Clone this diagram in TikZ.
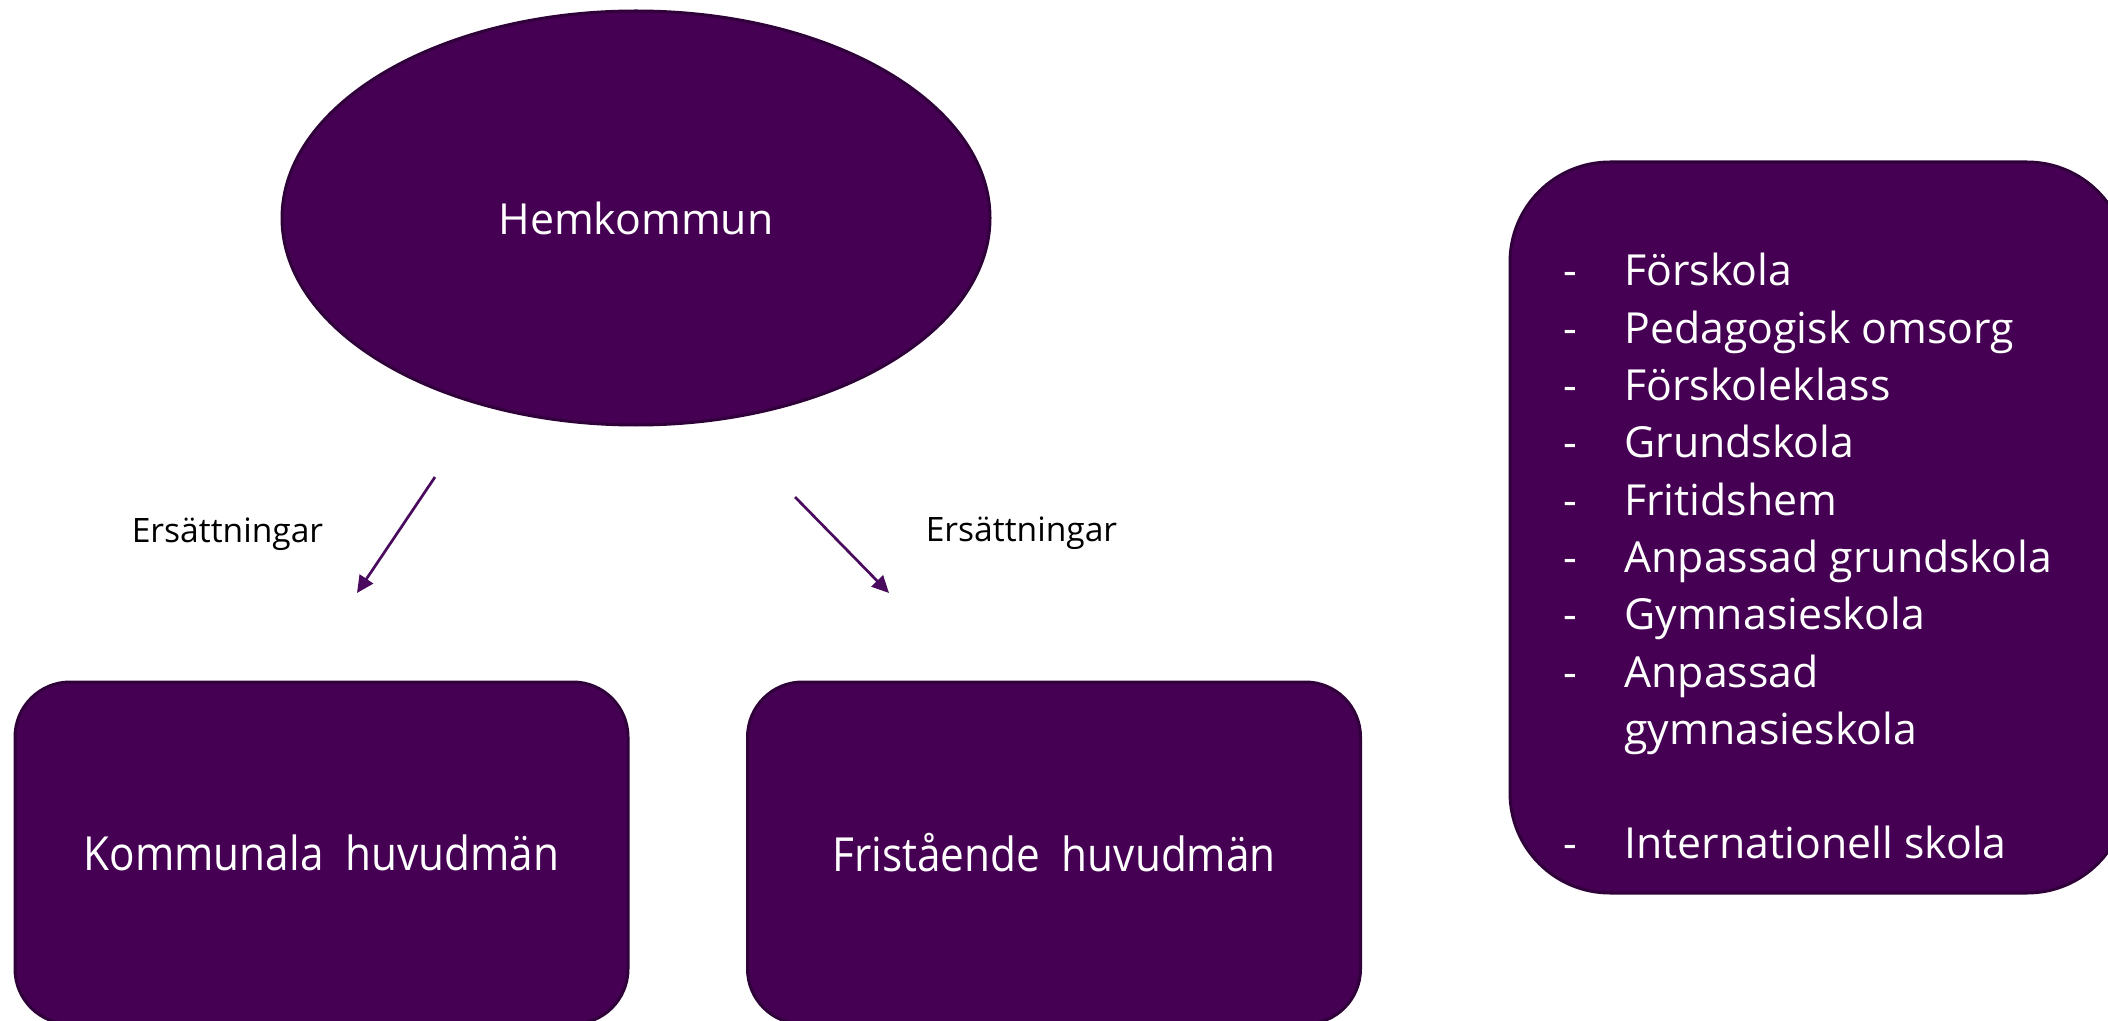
\documentclass[tikz,border=0pt]{standalone}
\usepackage{fontspec}
\setmainfont{Open Sans}
\newfontfamily\condfont[FakeStretch=0.9]{Open Sans}
\usetikzlibrary{shapes.geometric,arrows.meta}
\definecolor{purplefill}{HTML}{450053}
\definecolor{purpleline}{HTML}{2F003A}
\definecolor{arrowcol}{HTML}{4A0A5E}
\begin{document}
\begin{tikzpicture}[x=0.5pt,y=-0.5pt,
  shapebox/.style={draw=purpleline,line width=1.5pt,fill=purplefill,inner sep=0pt,text=white},
  bottombox/.style={shapebox,rectangle,rounded corners=27.5pt,minimum width=306.5pt,minimum height=171pt,
     font=\condfont\fontsize{23.5pt}{28pt}\selectfont},
  labeltext/.style={inner sep=0pt,anchor=base,text=black,font=\fontsize{16.8pt}{20pt}\selectfont},
  flowarrow/.style={draw=arrowcol,line width=1.35pt,-{Triangle[length=8.5pt,width=8pt]}}]
\useasboundingbox (0,0) rectangle (2108,1021);
\clip (0,0) rectangle (2108,1021);

\node[shapebox,ellipse,minimum width=354pt,minimum height=207pt,
      font=\fontsize{21.4pt}{26pt}\selectfont] (hem) at (636,218) {Hemkommun};

\node[bottombox] (kom) at (321.5,853) {Kommunala\ \ huvudmän};
\node[bottombox] (fri) at (1054,853) {Fristående\ \ huvudmän};

\node[shapebox,rectangle,rounded corners=50pt,minimum width=308.5pt,minimum height=365.5pt] (list) at (1818.5,527.5) {};
\node[inner sep=0pt,anchor=base west,text=white,font=\fontsize{21.4pt}{28.65pt}\selectfont] (listtext) at (1563,286)
 {\begin{tabular}[t]{@{}p{30.5pt}@{}l@{}}
  - & Förskola\\
  - & Pedagogisk omsorg\\
  - & Förskoleklass\\
  - & Grundskola\\
  - & Fritidshem\\
  - & Anpassad grundskola\\
  - & Gymnasieskola\\
  - & Anpassad\\
    & gymnasieskola\\
    & \\
  - & Internationell skola
  \end{tabular}};

\node[labeltext] (lab1) at (227.5,542) {Ersättningar};
\node[labeltext] (lab2) at (1021.5,541) {Ersättningar};

\coordinate (a1s) at (435,477);
\coordinate (a1e) at (357,593);
\coordinate (a2s) at (795,497);
\coordinate (a2e) at (889,593);
\draw[flowarrow] (a1s) -- (a1e);
\draw[flowarrow] (a2s) -- (a2e);
\end{tikzpicture}
\end{document}
